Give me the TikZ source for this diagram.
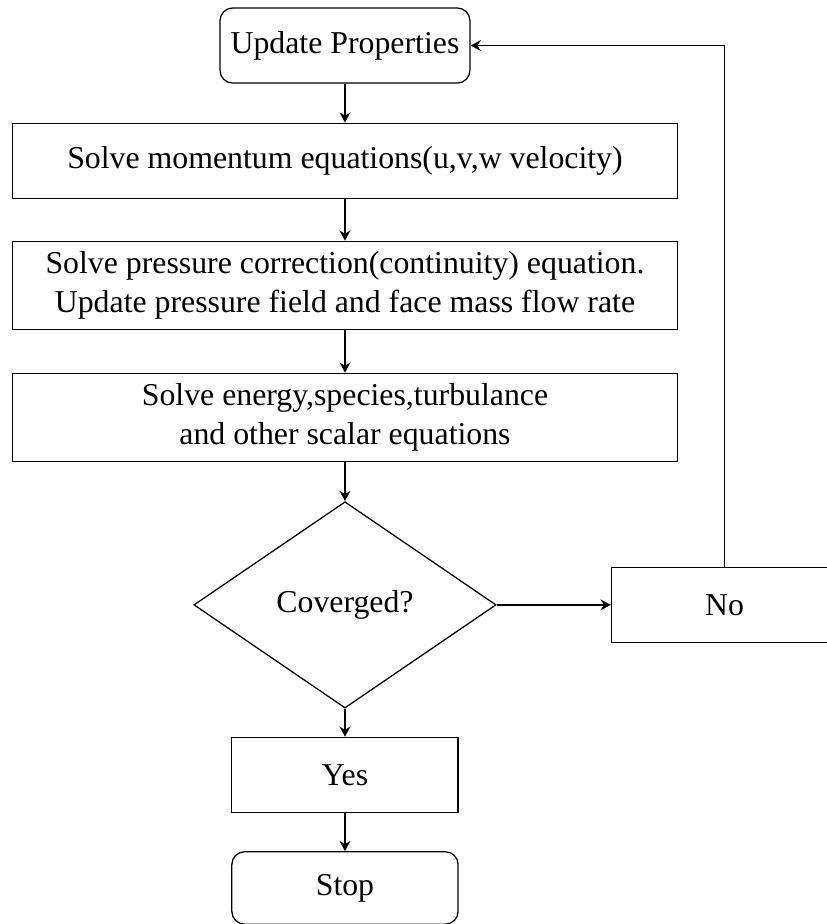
\documentclass[tikz,border=0pt]{standalone}
\usepackage{fontspec}
\setmainfont{Liberation Serif}
\usepackage{tikz}
\usetikzlibrary{arrows.meta, positioning, shapes.geometric}

\begin{document}
\begin{tikzpicture}[node distance=0.45cm, auto,
  block/.style={rectangle, draw, minimum width=7.35cm, minimum height=0.83cm, align=center},
  smallblock/.style={rectangle, draw, minimum width=2.5cm, minimum height=0.83cm, align=center},
  term/.style={rectangle, draw, rounded corners, minimum width=2.5cm, minimum height=0.83cm, align=center},
  decision/.style={diamond, draw, minimum width=3.34cm, minimum height=2.28cm, inner sep=0pt, align=center},
  arrow/.style={-{Stealth[length=3.2pt, width=3.4pt]}, semithick}]

\useasboundingbox (0,0) rectangle (9.138,-10.21);

\node[term, minimum width=2.76cm] (update) at (3.812,-0.503) {Update Properties};

\node[block, below=0.43cm of update] (momentum) {Solve momentum equations(u,v,w velocity)};
\node[block, below=0.46cm of momentum] (pressure) {Solve pressure correction(continuity) equation.\\Update pressure field and face mass flow rate};
\node[block, below=0.47cm of pressure] (energy) {Solve energy,species,turbulance\\and other scalar equations};

\node[decision, below=0.43cm of energy] (conv) {Coverged?};
\node[smallblock, right=1.26cm of conv] (no) {No};
\node[smallblock, below=0.31cm of conv] (yes) {Yes};
\node[term, minimum height=0.8cm, below=0.42cm of yes] (stop) {Stop};

\draw[arrow] (update) -- (momentum);
\draw[arrow] (momentum) -- (pressure);
\draw[arrow] (pressure) -- (energy);
\draw[arrow] (energy) -- (conv);
\draw[arrow] (conv) -- (no);
\draw[arrow] (conv) -- (yes);
\draw[arrow] (yes) -- (stop);
\draw[arrow] (no.north) |- (update.east);
\end{tikzpicture}
\end{document}
